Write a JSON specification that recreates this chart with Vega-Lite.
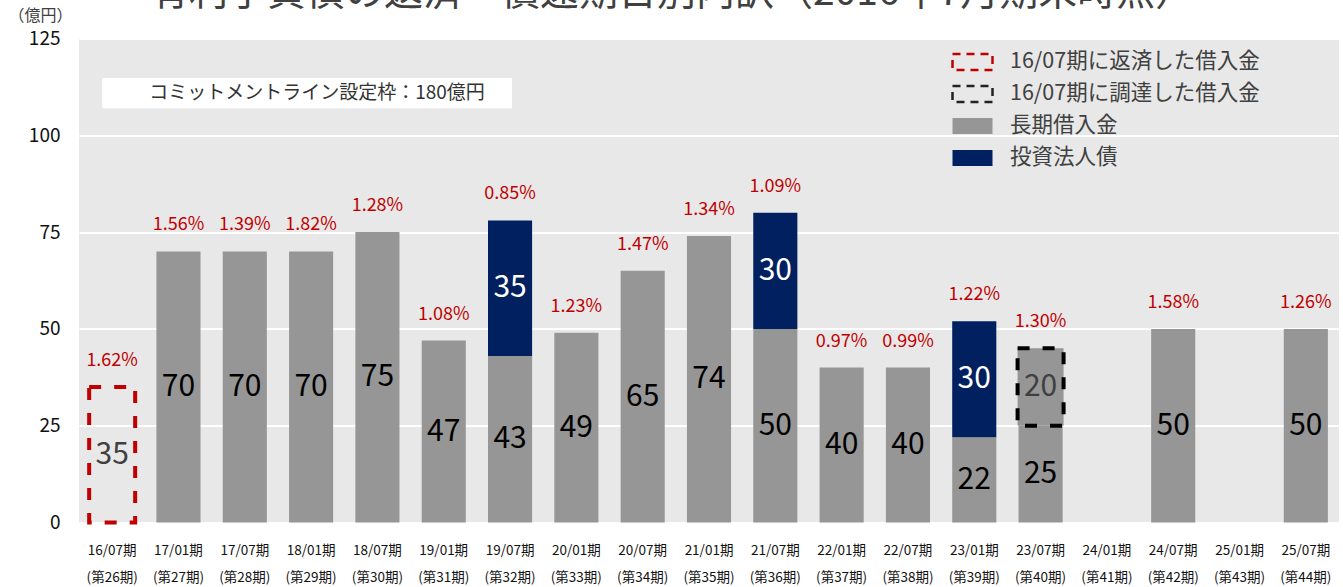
{
  "$schema": "https://vega.github.io/schema/vega-lite/v6.json",
  "autosize": {"type": "none"},
  "width": 1260,
  "height": 484,
  "padding": {"left": 79, "top": 38.5, "right": 4, "bottom": 64.5},
  "background": "white",
  "config": {
    "font": "Noto Sans CJK JP",
    "view": {"fill": "#e8e8e8", "stroke": null}
  },
  "title": {
    "text": "有利子負債の返済・償還期日別内訳（2016年7月期末時点）",
    "anchor": "start",
    "frame": "group",
    "dx": 71,
    "dy": 36,
    "fontSize": 39,
    "fontWeight": "normal",
    "color": "#404040",
    "font": "Noto Sans CJK JP",
    "baseline": "alphabetic",
    "offset": 0
  },
  "datasets": {
    "loans": [
      {"period": "16/07期|(第26期)", "series": "16/07期に返済した借入金", "value": 35},
      {"period": "17/01期|(第27期)", "series": "長期借入金", "value": 70},
      {"period": "17/07期|(第28期)", "series": "長期借入金", "value": 70},
      {"period": "18/01期|(第29期)", "series": "長期借入金", "value": 70},
      {"period": "18/07期|(第30期)", "series": "長期借入金", "value": 75},
      {"period": "19/01期|(第31期)", "series": "長期借入金", "value": 47},
      {"period": "19/07期|(第32期)", "series": "長期借入金", "value": 43},
      {"period": "19/07期|(第32期)", "series": "投資法人債", "value": 35},
      {"period": "20/01期|(第33期)", "series": "長期借入金", "value": 49},
      {"period": "20/07期|(第34期)", "series": "長期借入金", "value": 65},
      {"period": "21/01期|(第35期)", "series": "長期借入金", "value": 74},
      {"period": "21/07期|(第36期)", "series": "長期借入金", "value": 50},
      {"period": "21/07期|(第36期)", "series": "投資法人債", "value": 30},
      {"period": "22/01期|(第37期)", "series": "長期借入金", "value": 40},
      {"period": "22/07期|(第38期)", "series": "長期借入金", "value": 40},
      {"period": "23/01期|(第39期)", "series": "長期借入金", "value": 22},
      {"period": "23/01期|(第39期)", "series": "投資法人債", "value": 30},
      {"period": "23/07期|(第40期)", "series": "長期借入金", "value": 25},
      {"period": "23/07期|(第40期)", "series": "16/07期に調達した借入金", "value": 20},
      {"period": "24/07期|(第42期)", "series": "長期借入金", "value": 50},
      {"period": "25/07期|(第44期)", "series": "長期借入金", "value": 50}
    ],
    "rates": [
      {"period": "16/07期|(第26期)", "total": 35, "rate": 0.0162},
      {"period": "17/01期|(第27期)", "total": 70, "rate": 0.0156},
      {"period": "17/07期|(第28期)", "total": 70, "rate": 0.0139},
      {"period": "18/01期|(第29期)", "total": 70, "rate": 0.0182},
      {"period": "18/07期|(第30期)", "total": 75, "rate": 0.0128},
      {"period": "19/01期|(第31期)", "total": 47, "rate": 0.0108},
      {"period": "19/07期|(第32期)", "total": 78, "rate": 0.0085},
      {"period": "20/01期|(第33期)", "total": 49, "rate": 0.0123},
      {"period": "20/07期|(第34期)", "total": 65, "rate": 0.0147},
      {"period": "21/01期|(第35期)", "total": 74, "rate": 0.0134},
      {"period": "21/07期|(第36期)", "total": 80, "rate": 0.0109},
      {"period": "22/01期|(第37期)", "total": 40, "rate": 0.0097},
      {"period": "22/07期|(第38期)", "total": 40, "rate": 0.0099},
      {"period": "23/01期|(第39期)", "total": 52, "rate": 0.0122},
      {"period": "23/07期|(第40期)", "total": 45, "rate": 0.0130},
      {"period": "24/07期|(第42期)", "total": 50, "rate": 0.0158},
      {"period": "25/07期|(第44期)", "total": 50, "rate": 0.0126}
    ]
  },
  "encoding": {
    "x": {
      "field": "period",
      "type": "nominal",
      "scale": {
        "domain": ["16/07期|(第26期)", "17/01期|(第27期)", "17/07期|(第28期)", "18/01期|(第29期)", "18/07期|(第30期)", "19/01期|(第31期)", "19/07期|(第32期)", "20/01期|(第33期)", "20/07期|(第34期)", "21/01期|(第35期)", "21/07期|(第36期)", "22/01期|(第37期)", "22/07期|(第38期)", "23/01期|(第39期)", "23/07期|(第40期)", "24/01期|(第41期)", "24/07期|(第42期)", "25/01期|(第43期)", "25/07期|(第44期)"],
        "paddingInner": 0.335,
        "paddingOuter": 0.1675
      },
      "axis": {
        "title": null,
        "labelExpr": "split(datum.value, '|')",
        "labelAngle": 0,
        "labelFontSize": 13.5,
        "labelLineHeight": 27,
        "labelColor": "#111111",
        "labelPadding": 21,
        "domain": false,
        "ticks": false,
        "grid": false
      }
    }
  },
  "layer": [
    {
      "data": {"name": "loans"},
      "transform": [
        {"stack": "value", "groupby": ["period"], "sort": [{"field": "series", "order": "descending"}], "as": ["lo", "hi"]},
        {"calculate": "(datum.lo + datum.hi) / 2", "as": "mid"}
      ],
      "layer": [
        {
          "mark": {"type": "bar"},
          "encoding": {
            "y": {
              "field": "lo",
              "type": "quantitative",
              "scale": {"domain": [0, 125], "nice": false},
              "axis": {
                "values": [0, 25, 50, 75, 100, 125],
                "title": "（億円）",
                "titleAngle": 0,
                "titleX": -39,
                "titleY": -23,
                "titleAlign": "center",
                "titleBaseline": "middle",
                "titleFontSize": 16,
                "titleFontWeight": "normal",
                "titleColor": "#404040",
                "labelFontSize": 19,
                "labelColor": "#111111",
                "labelPadding": 19,
                "domain": false,
                "ticks": false,
                "grid": true,
                "gridColor": "white",
                "gridWidth": 2
              }
            },
            "y2": {"field": "hi"},
            "color": {
              "field": "series",
              "type": "nominal",
              "scale": {
                "domain": ["16/07期に返済した借入金", "16/07期に調達した借入金", "長期借入金", "投資法人債"],
                "range": ["transparent", "transparent", "#969696", "#002060"]
              },
              "legend": {
                "orient": "none",
                "legendX": 882,
                "legendY": 12,
                "title": null,
                "symbolType": "M-2,-0.8H2V0.8H-2Z",
                "symbolSize": 400,
                "symbolStrokeWidth": 2.5,
                "labelFontSize": 21.5,
                "labelColor": "#404040",
                "labelFont": "Noto Sans CJK JP",
                "labelLimit": 400,
                "labelOffset": 26,
                "rowPadding": 5,
                "encode": {
                  "symbols": {
                    "update": {
                      "stroke": {"signal": "datum.index == 0 ? '#c00000' : datum.index == 1 ? '#222222' : 'transparent'"},
                      "strokeDash": {"signal": "datum.index < 2 ? [8, 6] : [1, 0]"},
                      "strokeWidth": {"value": 2.5},
                      "opacity": {"value": 1}
                    }
                  }
                }
              }
            }
          }
        },
        {
          "transform": [{"filter": "indexof(datum.series, '16/07') === 0"}],
          "mark": {"type": "bar", "strokeWidth": 4, "strokeDash": [12, 13], "width": 46},
          "encoding": {
            "y": {"field": "lo", "type": "quantitative"},
            "y2": {"field": "hi"},
            "fill": {
              "condition": {"test": "datum.series === '16/07期に調達した借入金'", "value": "#969696"},
              "value": "transparent"
            },
            "stroke": {
              "condition": {"test": "datum.series === '16/07期に返済した借入金'", "value": "#c00000"},
              "value": "#000000"
            }
          }
        },
        {
          "mark": {"type": "text", "fontSize": 30, "baseline": "middle", "align": "center"},
          "encoding": {
            "y": {"field": "mid", "type": "quantitative"},
            "text": {"field": "value", "type": "quantitative"},
            "color": {
              "condition": [
                {"test": "datum.series === '投資法人債'", "value": "#ffffff"},
                {"test": "indexof(datum.series, '16/07') === 0", "value": "#404040"}
              ],
              "value": "#000000"
            }
          }
        }
      ]
    },
    {
      "data": {"name": "rates"},
      "mark": {"type": "text", "fontSize": 18, "color": "#c00000", "dy": -26, "baseline": "middle"},
      "encoding": {
        "y": {"field": "total", "type": "quantitative"},
        "text": {"field": "rate", "type": "quantitative", "format": ".2%"}
      }
    },
    {
      "data": {"values": [{"note": "コミットメントライン設定枠：180億円"}]},
      "layer": [
        {
          "mark": {"type": "rect", "fill": "white", "xOffset": -10, "x2Offset": 2},
          "encoding": {
            "x": {"datum": "16/07期|(第26期)"},
            "x2": {"datum": "19/07期|(第32期)"},
            "y": {"datum": 107},
            "y2": {"datum": 114.8}
          }
        },
        {
          "mark": {"type": "text", "fontSize": 19, "color": "#333333", "align": "left", "baseline": "middle", "dx": 37},
          "encoding": {
            "x": {"datum": "16/07期|(第26期)"},
            "y": {"datum": 110.9},
            "text": {"field": "note"}
          }
        }
      ]
    }
  ]
}
